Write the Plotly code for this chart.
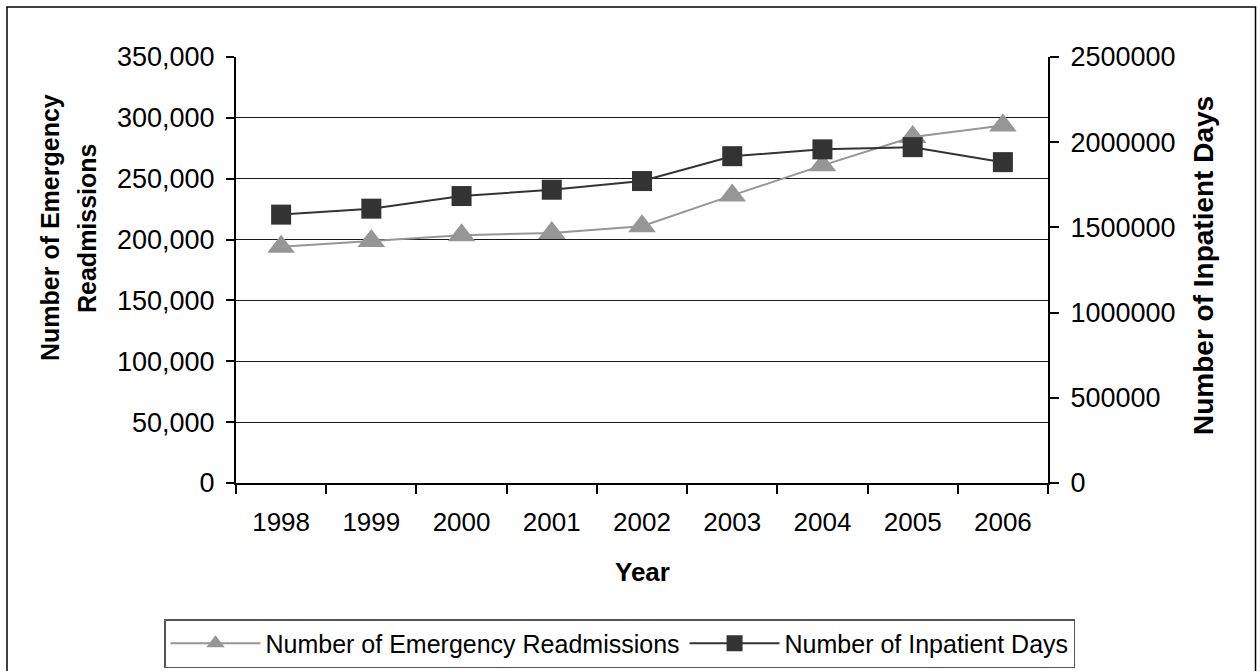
import plotly.graph_objects as go

years = ["1998", "1999", "2000", "2001", "2002", "2003", "2004", "2005", "2006"]
readmissions = [194000, 198800, 203500, 205400, 210900, 236300, 261000, 284200, 293800]
inpatient_days = [1575000, 1610000, 1684000, 1721000, 1772000, 1918000, 1958000, 1971000, 1883000]

name_readm = "Number of Emergency Readmissions"
name_days = "Number of Inpatient Days"

FONT = "Arial, Liberation Sans, sans-serif"

W, H = 1260, 671
L, R, T, B = 236, 212, 57, 188
pw, ph = W - L - R, H - T - B


def px(x):
    return (x - L) / pw


def py(y):
    return (H - B - y) / ph


fig = go.Figure()
fig.add_trace(go.Scatter(
    x=years, y=readmissions, name=name_readm, mode="lines+markers",
    line=dict(color="#969696", width=2),
    marker=dict(symbol="triangle-up", size=24, color="#969696"),
    yaxis="y",
))
fig.add_trace(go.Scatter(
    x=years, y=inpatient_days, name=name_days, mode="lines+markers",
    line=dict(color="#333333", width=2),
    marker=dict(symbol="square", size=20, color="#333333"),
    yaxis="y2",
))

fig.update_layout(
    width=W, height=H,
    margin=dict(l=L, r=R, t=T, b=B, autoexpand=False),
    paper_bgcolor="white", plot_bgcolor="white",
    font=dict(family=FONT, size=26, color="black"),
    xaxis=dict(
        type="category", range=[-0.5, 8.5], tickson="boundaries",
        ticks="outside", ticklen=9, tickcolor="black", tickwidth=1.5,
        showline=True, linecolor="black", linewidth=2,
        showgrid=False, ticklabelstandoff=15,
        tickfont=dict(size=26),
    ),
    yaxis=dict(
        range=[0, 350000], dtick=50000, tickformat=",",
        ticks="outside", ticklen=8, tickcolor="black", tickwidth=1.5,
        showline=True, linecolor="black", linewidth=2,
        showgrid=True, gridcolor="#1a1a1a", gridwidth=1,
        zeroline=False, ticklabelstandoff=6,
        tickfont=dict(size=27),
    ),
    yaxis2=dict(
        range=[0, 2500000], dtick=500000, tickformat="d",
        overlaying="y", side="right",
        ticks="outside", ticklen=9, tickcolor="black", tickwidth=1.5,
        showline=True, linecolor="black", linewidth=2,
        showgrid=False, zeroline=False, ticklabelstandoff=6,
        tickfont=dict(size=27),
    ),
    showlegend=True,
    legend=dict(
        orientation="h", x=px(164), y=py(619), xanchor="left", yanchor="top",
        bordercolor="#555555", borderwidth=1.5, bgcolor="white",
        font=dict(size=25), itemwidth=90,
    ),
)

fig.add_annotation(
    text="<b>Number of Emergency</b>", xref="paper", yref="paper",
    x=px(50), y=py(228), showarrow=False, textangle=-90,
    font=dict(size=25), xanchor="center", yanchor="middle",
)
fig.add_annotation(
    text="<b>Readmissions</b>", xref="paper", yref="paper",
    x=px(87), y=py(228), showarrow=False, textangle=-90,
    font=dict(size=25), xanchor="center", yanchor="middle",
)
fig.add_annotation(
    text="<b>Number of Inpatient Days</b>", xref="paper", yref="paper",
    x=px(1203), y=py(266), showarrow=False, textangle=-90,
    font=dict(size=28), xanchor="center", yanchor="middle",
)
fig.add_annotation(
    text="<b>Year</b>", xref="paper", yref="paper",
    x=px(642), y=py(572), showarrow=False,
    font=dict(size=26), xanchor="center", yanchor="middle",
)

fig.add_shape(
    type="rect", xref="paper", yref="paper",
    x0=px(7), x1=px(1255.5), y0=py(690), y1=py(7),
    line=dict(color="black", width=1.5), fillcolor="rgba(0,0,0,0)", layer="below",
)

fig.write_html("out.html")
